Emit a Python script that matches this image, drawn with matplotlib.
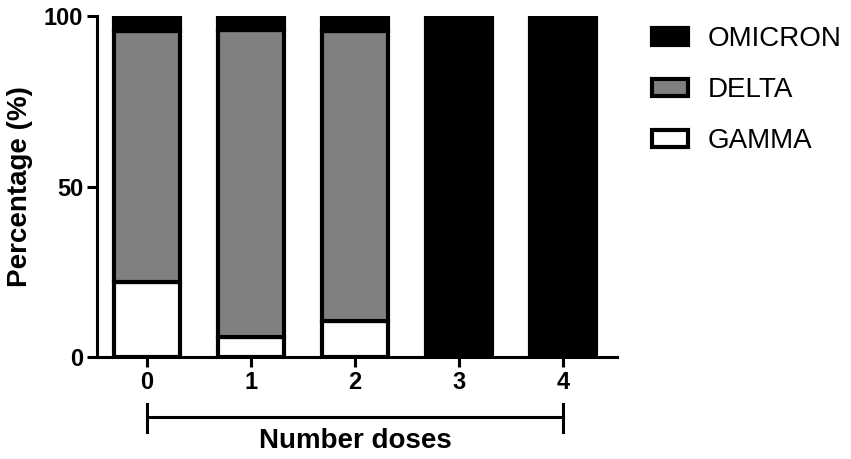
import numpy as np
import matplotlib
matplotlib.use("Agg")
import matplotlib.pyplot as plt
from matplotlib.patches import Patch

plt.rcParams['font.family'] = ['Liberation Sans', 'DejaVu Sans']

doses = [0, 1, 2, 3, 4]
gamma = np.array([22.0, 6.0, 10.5, 0.0, 0.0])
delta = np.array([73.5, 90.0, 85.0, 0.0, 0.0])
omicron = np.array([4.5, 4.0, 4.5, 100.0, 100.0])

fig = plt.figure(figsize=(8.51, 4.59), dpi=100)
ax = fig.add_axes([0.114, 0.222, 0.611, 0.743])

lw = 3.0
w = 0.64
ax.bar(doses, gamma, w, color='white', edgecolor='black', linewidth=lw)
ax.bar(doses, delta, w, bottom=gamma, color='#808080', edgecolor='black', linewidth=lw)
ax.bar(doses, omicron, w, bottom=gamma + delta, color='black', edgecolor='black', linewidth=lw)

ax.set_xlim(-0.48, 4.52)
ax.set_ylim(0, 100)
ax.set_yticks([0, 50, 100])
ax.set_xticks(doses)
for s in ['top', 'right']:
    ax.spines[s].set_visible(False)
for s in ['left', 'bottom']:
    ax.spines[s].set_linewidth(2.2)
ax.tick_params(width=2.2, length=7, labelsize=17, pad=3)
for lab in ax.get_xticklabels() + ax.get_yticklabels():
    lab.set_fontweight('bold')

ax.set_ylabel('Percentage (%)', fontsize=20, fontweight='bold', labelpad=8)

# bracket under x axis
ax.plot([0, 4], [-17.6, -17.6], color='black', lw=2.2, clip_on=False)
ax.plot([0, 0], [-13.8, -22.0], color='black', lw=2.2, clip_on=False)
ax.plot([4, 4], [-13.8, -22.0], color='black', lw=2.2, clip_on=False)
ax.text(2, -24.5, 'Number doses', fontsize=20, fontweight='bold',
        ha='center', va='center', clip_on=False)

handles = [
    Patch(facecolor='black', edgecolor='black', linewidth=lw, label='OMICRON'),
    Patch(facecolor='#808080', edgecolor='black', linewidth=lw, label='DELTA'),
    Patch(facecolor='white', edgecolor='black', linewidth=lw, label='GAMMA'),
]
fig.legend(handles=handles, loc='upper left', bbox_to_anchor=(0.737, 0.997),
           frameon=False, fontsize=20, handlelength=1.3, handleheight=0.6,
           handletextpad=0.7, labelspacing=0.9)

fig.savefig('out.png', dpi=100)
